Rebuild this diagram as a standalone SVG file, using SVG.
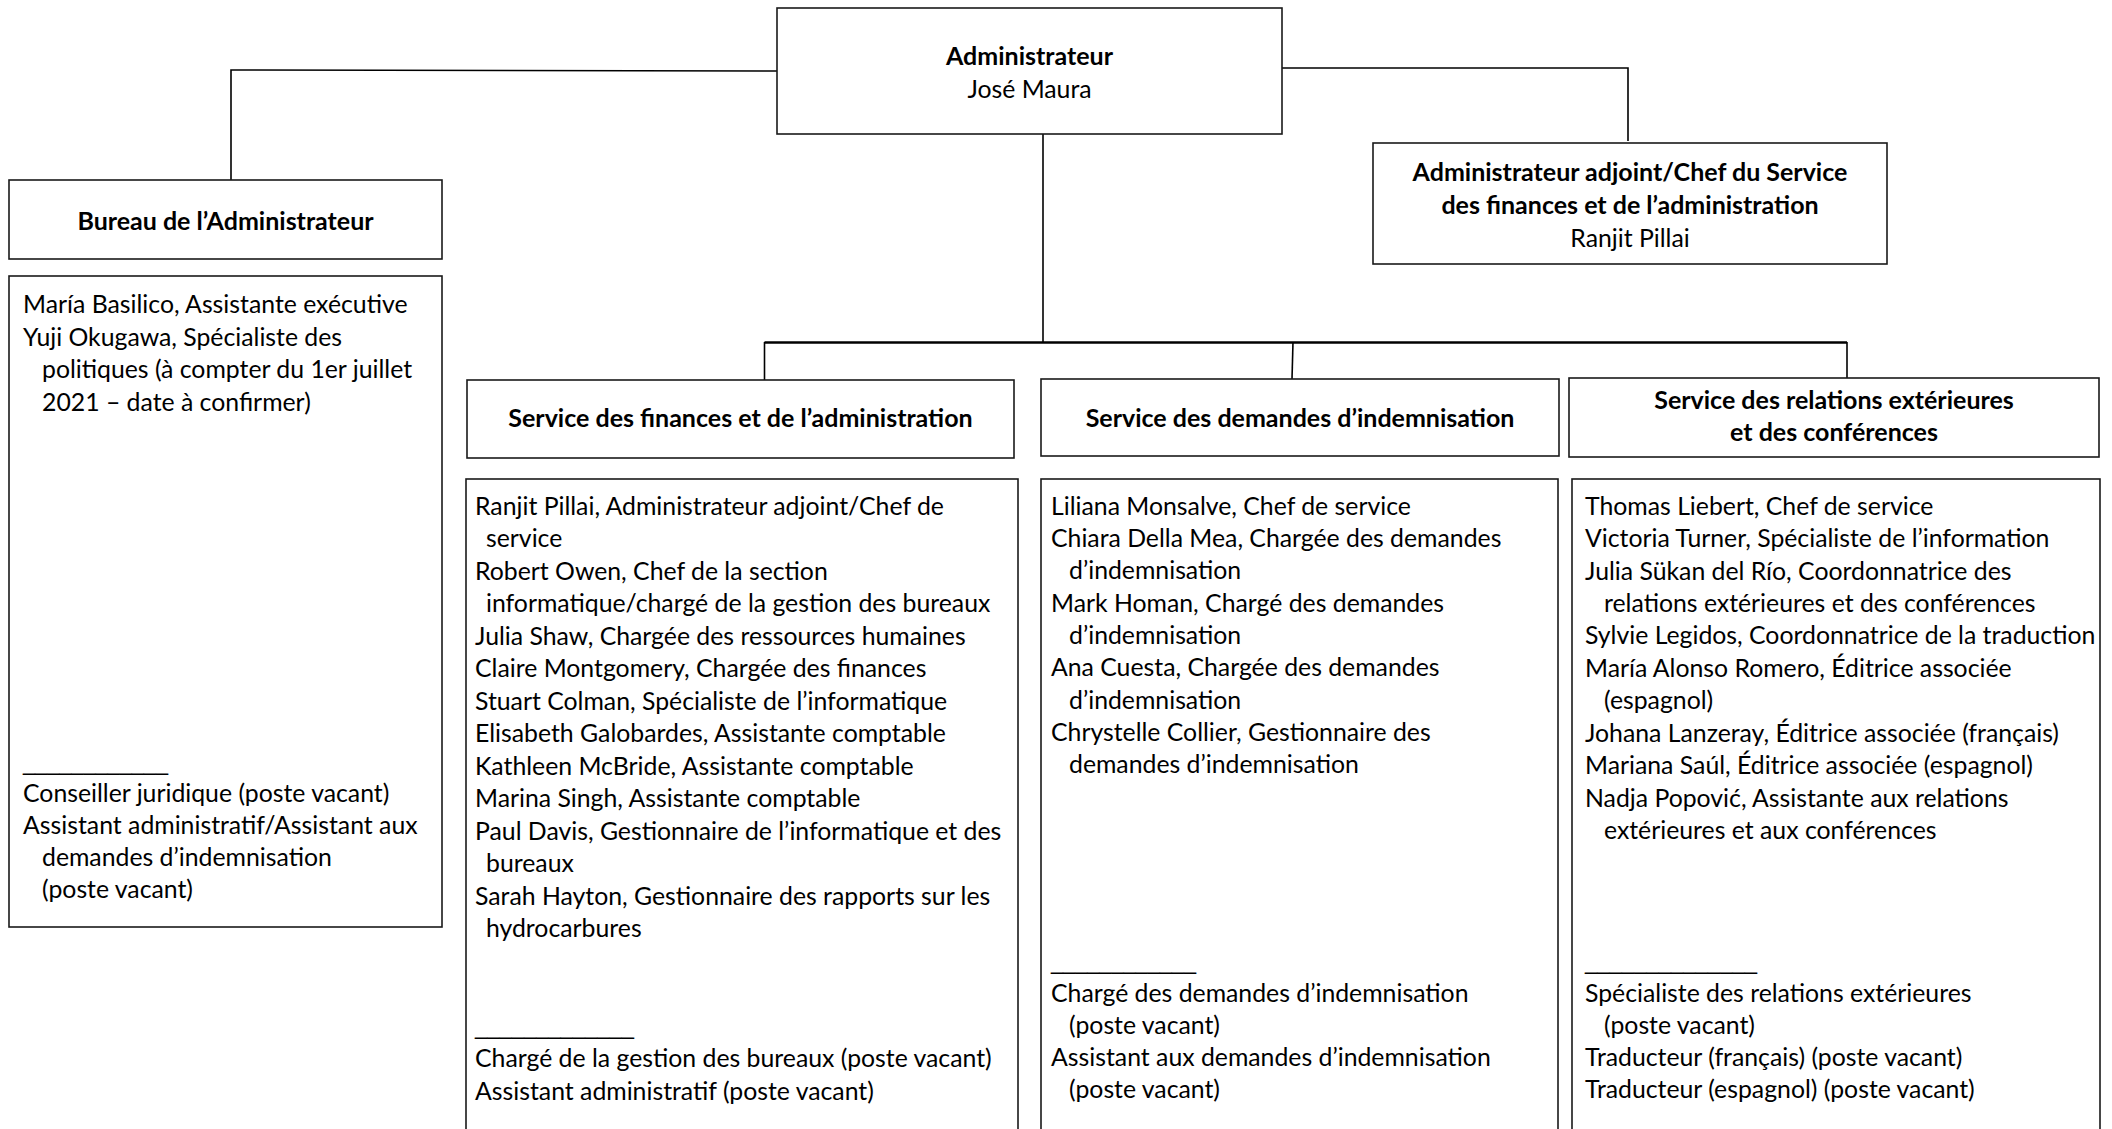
<svg xmlns="http://www.w3.org/2000/svg" width="2112" height="1129" viewBox="0 0 2112 1129">
<style>
.box{fill:#fff;stroke:#1a1a1a;stroke-width:1.6}
.t{font-family:Lato,"Open Sans","Liberation Sans",sans-serif;font-size:24.8px;fill:#000}
.b{font-weight:bold;font-size:25px}
.c{text-anchor:middle}
.u{font-family:"Liberation Sans",sans-serif;font-size:24px;fill:#000}
.conn{stroke:#000;fill:none;stroke-width:1.6}
.bus{stroke:#000;fill:none;stroke-width:2.6}
</style>
<rect width="2112" height="1129" fill="#fff"/>
<g id="connectors">
<polyline class="conn" points="777,71 231,70 231,181"/>
<polyline class="conn" points="1282,68 1628,68 1628,141"/>
<line class="conn" x1="1043" y1="134" x2="1043" y2="343"/>
<line class="bus" x1="764.5" y1="342.5" x2="1847" y2="342.5"/>
<line class="conn" x1="764.5" y1="342" x2="764.5" y2="380"/>
<line class="conn" x1="1293" y1="342" x2="1292" y2="379"/>
<line class="conn" x1="1847" y1="342" x2="1847" y2="378"/>
</g>
<g id="administrateur">
<rect class="box" x="777" y="8" width="505" height="126"/>
<text class="t b c" x="1029.5" y="65">Administrateur</text>
<text class="t c" x="1029.5" y="98">José Maura</text>
</g>
<g id="adjoint">
<rect class="box" x="1373" y="143" width="514" height="121"/>
<text class="t b c" x="1630" y="181">Administrateur adjoint/Chef du Service</text>
<text class="t b c" x="1630" y="214">des finances et de l’administration</text>
<text class="t c" x="1630" y="247">Ranjit Pillai</text>
</g>
<g id="bureau-header">
<rect class="box" x="9" y="180" width="433" height="79"/>
<text class="t b c" x="225.5" y="230">Bureau de l’Administrateur</text>
</g>
<g id="bureau-content">
<rect class="box" x="9" y="276" width="433" height="651"/>
<text class="t" x="23" y="313">María Basilico, Assistante exécutive</text>
<text class="t" x="23" y="346">Yuji Okugawa, Spécialiste des</text>
<text class="t" x="42" y="378">politiques (à compter du 1er juillet</text>
<text class="t" x="42" y="411">2021 – date à confirmer)</text>
<text class="u" x="23" y="770" textLength="145" lengthAdjust="spacingAndGlyphs">____________</text>
<text class="t" x="23" y="802">Conseiller juridique (poste vacant)</text>
<text class="t" x="23" y="834">Assistant administratif/Assistant aux</text>
<text class="t" x="42" y="866">demandes d’indemnisation</text>
<text class="t" x="42" y="898">(poste vacant)</text>
</g>
<g id="finances-header">
<rect class="box" x="467" y="380" width="547" height="78"/>
<text class="t b c" x="740.5" y="427">Service des finances et de l’administration</text>
</g>
<g id="finances-content">
<rect class="box" x="466" y="479" width="552" height="670"/>
<text class="t" x="475" y="515">Ranjit Pillai, Administrateur adjoint/Chef de</text>
<text class="t" x="486" y="547">service</text>
<text class="t" x="475" y="580">Robert Owen, Chef de la section</text>
<text class="t" x="486" y="612">informatique/chargé de la gestion des bureaux</text>
<text class="t" x="475" y="645">Julia Shaw, Chargée des ressources humaines</text>
<text class="t" x="475" y="677">Claire Montgomery, Chargée des finances</text>
<text class="t" x="475" y="710">Stuart Colman, Spécialiste de l’informatique</text>
<text class="t" x="475" y="742">Elisabeth Galobardes, Assistante comptable</text>
<text class="t" x="475" y="775">Kathleen McBride, Assistante comptable</text>
<text class="t" x="475" y="807">Marina Singh, Assistante comptable</text>
<text class="t" x="475" y="840">Paul Davis, Gestionnaire de l’informatique et des</text>
<text class="t" x="486" y="872">bureaux</text>
<text class="t" x="475" y="905">Sarah Hayton, Gestionnaire des rapports sur les</text>
<text class="t" x="486" y="937">hydrocarbures</text>
<text class="u" x="475" y="1034" textLength="159" lengthAdjust="spacingAndGlyphs">_____________</text>
<text class="t" x="475" y="1067">Chargé de la gestion des bureaux (poste vacant)</text>
<text class="t" x="475" y="1100">Assistant administratif (poste vacant)</text>
</g>
<g id="claims-header">
<rect class="box" x="1041" y="379" width="518" height="77"/>
<text class="t b c" x="1300" y="427">Service des demandes d’indemnisation</text>
</g>
<g id="claims-content">
<rect class="box" x="1041" y="479" width="517" height="670"/>
<text class="t" x="1051" y="515">Liliana Monsalve, Chef de service</text>
<text class="t" x="1051" y="547">Chiara Della Mea, Chargée des demandes</text>
<text class="t" x="1069" y="579">d’indemnisation</text>
<text class="t" x="1051" y="612">Mark Homan, Chargé des demandes</text>
<text class="t" x="1069" y="644">d’indemnisation</text>
<text class="t" x="1051" y="676">Ana Cuesta, Chargée des demandes</text>
<text class="t" x="1069" y="709">d’indemnisation</text>
<text class="t" x="1051" y="741">Chrystelle Collier, Gestionnaire des</text>
<text class="t" x="1069" y="773">demandes d’indemnisation</text>
<text class="u" x="1051" y="969" textLength="145" lengthAdjust="spacingAndGlyphs">____________</text>
<text class="t" x="1051" y="1002">Chargé des demandes d’indemnisation</text>
<text class="t" x="1069" y="1034">(poste vacant)</text>
<text class="t" x="1051" y="1066">Assistant aux demandes d’indemnisation</text>
<text class="t" x="1069" y="1098">(poste vacant)</text>
</g>
<g id="relations-header">
<rect class="box" x="1569" y="378" width="530" height="79"/>
<text class="t b c" x="1834" y="409">Service des relations extérieures</text>
<text class="t b c" x="1834" y="441">et des conférences</text>
</g>
<g id="relations-content">
<rect class="box" x="1572" y="479" width="528" height="670"/>
<text class="t" x="1585" y="515">Thomas Liebert, Chef de service</text>
<text class="t" x="1585" y="547">Victoria Turner, Spécialiste de l’information</text>
<text class="t" x="1585" y="580">Julia Sükan del Río, Coordonnatrice des</text>
<text class="t" x="1604" y="612">relations extérieures et des conférences</text>
<text class="t" x="1585" y="644">Sylvie Legidos, Coordonnatrice de la traduction</text>
<text class="t" x="1585" y="677">María Alonso Romero, Éditrice associée</text>
<text class="t" x="1604" y="709">(espagnol)</text>
<text class="t" x="1585" y="742">Johana Lanzeray, Éditrice associée (français)</text>
<text class="t" x="1585" y="774">Mariana Saúl, Éditrice associée (espagnol)</text>
<text class="t" x="1585" y="807">Nadja Popović, Assistante aux relations</text>
<text class="t" x="1604" y="839">extérieures et aux conférences</text>
<text class="u" x="1585" y="969" textLength="172" lengthAdjust="spacingAndGlyphs">______________</text>
<text class="t" x="1585" y="1002">Spécialiste des relations extérieures</text>
<text class="t" x="1604" y="1034">(poste vacant)</text>
<text class="t" x="1585" y="1066">Traducteur (français) (poste vacant)</text>
<text class="t" x="1585" y="1098">Traducteur (espagnol) (poste vacant)</text>
</g>
</svg>
